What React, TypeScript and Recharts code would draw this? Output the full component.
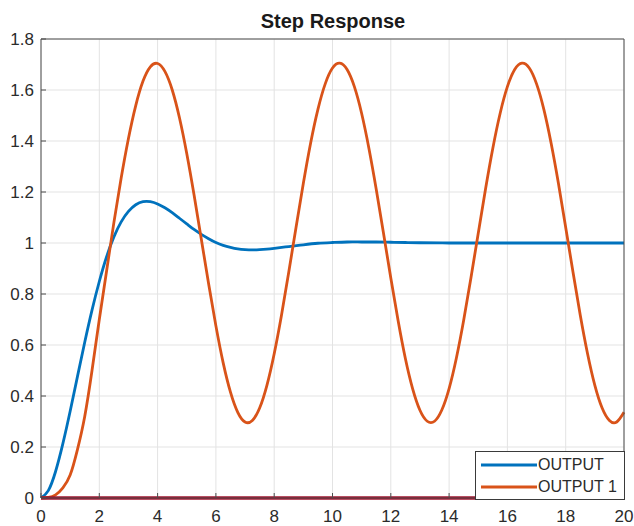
import React from "react";
import { LineChart, Line, XAxis, YAxis, CartesianGrid, Legend } from "recharts";

const WIDTH = 634;
const HEIGHT = 526;

const FONT = "'Liberation Sans', Arial, Helvetica, sans-serif";
const AXIS_COLOR = "#4d4d4d";
const TEXT_COLOR = "#2b2b2b";

const xTicks = [0, 2, 4, 6, 8, 10, 12, 14, 16, 18, 20];
const yTicks = [0, 0.2, 0.4, 0.6, 0.8, 1, 1.2, 1.4, 1.6, 1.8];

// OUTPUT: damped second-order step response
const blueTime = [
  0, 0.25, 0.5, 0.75, 1, 1.25, 1.5, 1.75, 2, 2.25, 2.5, 2.75, 3, 3.25, 3.5, 3.75,
  4, 4.25, 4.5, 4.75, 5, 5.25, 5.5, 5.75, 6, 6.25, 6.5, 6.75, 7, 7.25, 7.5, 7.75,
  8, 8.5, 9, 9.5, 10, 10.5, 11, 11.5, 12, 12.5, 13, 14, 15, 16, 17, 18, 19, 20,
];
const blueValue = [
  0, 0.029, 0.104, 0.213, 0.34, 0.476, 0.611, 0.737, 0.849, 0.946, 1.024, 1.083,
  1.124, 1.15, 1.162, 1.162, 1.153, 1.138, 1.119, 1.097, 1.075, 1.053, 1.034,
  1.017, 1.002, 0.991, 0.983, 0.977, 0.974, 0.973, 0.974, 0.976, 0.979, 0.986,
  0.993, 0.999, 1.002, 1.004, 1.004, 1.004, 1.003, 1.002, 1.001, 1, 1, 1, 1, 1, 1, 1,
];

// OUTPUT 1: undamped oscillation, sampled every 0.25 s
const orangeStep = 0.25;
const orangeValue = [
  0, 0.002, 0.012, 0.04, 0.09, 0.19, 0.32, 0.5, 0.7, 0.89, 1.08, 1.255, 1.41,
  1.539, 1.635, 1.691, 1.704, 1.673, 1.601, 1.491, 1.351, 1.189, 1.015, 0.84,
  0.675, 0.53, 0.415, 0.336, 0.298, 0.304, 0.353, 0.442, 0.566, 0.717, 0.886,
  1.062, 1.234, 1.392, 1.524, 1.624, 1.686, 1.705, 1.68, 1.613, 1.508, 1.371,
  1.211, 1.038, 0.863, 0.696, 0.547, 0.428, 0.344, 0.301, 0.301, 0.345, 0.429,
  0.549, 0.697, 0.864, 1.038, 1.212, 1.372, 1.508, 1.613, 1.68, 1.705, 1.686,
  1.624, 1.524, 1.391, 1.234, 1.061, 0.886, 0.717, 0.566, 0.442, 0.353, 0.304,
  0.298, 0.336,
];

// zero reference along the time axis
const baseTime = [0, 20];
const baseValue = [0, 0];

const blueData = blueTime.map((t, i) => ({ t, y: blueValue[i] }));
const orangeData = orangeValue.map((y, i) => ({ t: i * orangeStep, y }));
const baseData = baseTime.map((t, i) => ({ t, y: baseValue[i] }));

function LegendBox(props: any) {
  const items = (props.payload || []).filter((p: any) => p.type !== "none");
  return (
    <div
      style={{
        width: 150,
        height: 49,
        boxSizing: "border-box",
        border: "1px solid #3a3a3a",
        background: "#fff",
        fontFamily: FONT,
        fontSize: 16,
        color: TEXT_COLOR,
        paddingTop: 2,
      }}
    >
      {items.map((item: any) => (
        <div key={item.value} style={{ display: "flex", alignItems: "center", height: 22 }}>
          <svg width={58} height={10} style={{ marginLeft: 4 }}>
            <line x1={1} y1={5} x2={57} y2={5} stroke={item.color} strokeWidth={3} />
          </svg>
          <span>{item.value}</span>
        </div>
      ))}
    </div>
  );
}

export default function App() {
  return (
    <div
      style={{
        position: "absolute",
        left: 0,
        top: 0,
        width: WIDTH,
        height: HEIGHT,
        background: "#fff",
        fontFamily: FONT,
      }}
    >
      <LineChart width={WIDTH} height={HEIGHT} margin={{ top: 38, right: 9, bottom: 0, left: 0 }}>
        <text
          x={333}
          y={28}
          textAnchor="middle"
          fontFamily={FONT}
          fontSize={20}
          fontWeight="bold"
          fill="#1a1a1a"
        >
          Step Response
        </text>
        <CartesianGrid stroke="#e3e3e3" strokeWidth={1} />
        <XAxis
          dataKey="t"
          type="number"
          domain={[0, 20]}
          ticks={xTicks}
          height={28}
          tickSize={-5}
          tickMargin={17}
          stroke={AXIS_COLOR}
          tick={{ fill: TEXT_COLOR, fontSize: 17, fontFamily: FONT }}
        />
        {/* mirrored axes close the box on the top and right */}
        <XAxis
          xAxisId="top"
          dataKey="t"
          orientation="top"
          type="number"
          domain={[0, 20]}
          ticks={xTicks}
          height={1}
          tickSize={-5}
          tick={false}
          stroke={AXIS_COLOR}
        />
        <YAxis
          type="number"
          domain={[0, 1.8]}
          ticks={yTicks}
          width={41}
          tickSize={-5}
          tickMargin={12}
          stroke={AXIS_COLOR}
          tick={{ fill: TEXT_COLOR, fontSize: 17, fontFamily: FONT }}
        />
        <YAxis
          yAxisId="right"
          orientation="right"
          type="number"
          domain={[0, 1.8]}
          ticks={yTicks}
          width={1}
          tickSize={-5}
          tick={false}
          stroke={AXIS_COLOR}
        />
        <Line
          data={blueData}
          dataKey="y"
          name="OUTPUT"
          type="natural"
          stroke="#0072BD"
          strokeWidth={2.8}
          dot={false}
          isAnimationActive={false}
        />
        <Line
          data={orangeData}
          dataKey="y"
          name="OUTPUT 1"
          type="natural"
          stroke="#D95319"
          strokeWidth={2.8}
          dot={false}
          isAnimationActive={false}
        />
        <Line
          data={baseData}
          xAxisId="top"
          yAxisId="right"
          dataKey="y"
          name="zero"
          type="linear"
          stroke="#A2142F"
          strokeWidth={3.5}
          dot={false}
          legendType="none"
          isAnimationActive={false}
        />
        <Legend
          layout="vertical"
          align="center"
          verticalAlign="middle"
          content={LegendBox}
          wrapperStyle={{ left: 475, top: 451, width: 150, height: 49 }}
        />
      </LineChart>
    </div>
  );
}
